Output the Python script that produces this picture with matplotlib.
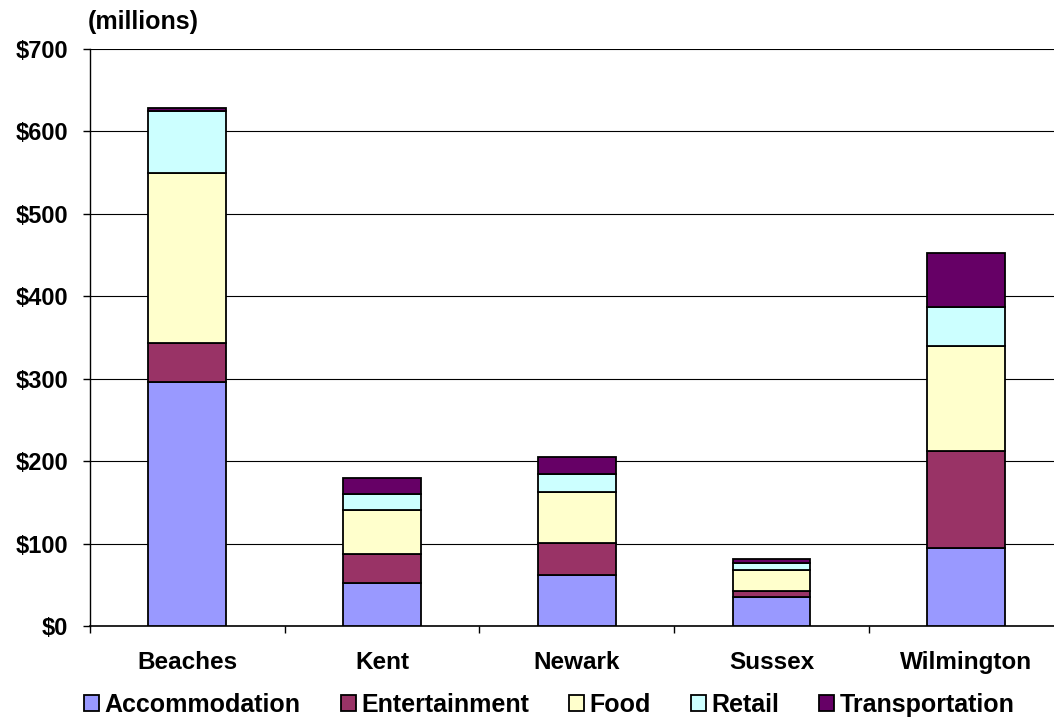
import matplotlib
matplotlib.use("Agg")
import matplotlib.pyplot as plt
import numpy as np

plt.rcParams['font.family'] = ['Liberation Sans', 'DejaVu Sans']
plt.rcParams['font.weight'] = 'bold'

categories = ["Beaches", "Kent", "Newark", "Sussex", "Wilmington"]
series_names = ["Accommodation", "Entertainment", "Food", "Retail", "Transportation"]
accommodation = [296, 52, 62, 35, 95]
entertainment = [47, 35, 39, 7, 117]
food = [206, 54, 61, 26, 128]
retail = [76, 19, 22, 9, 47]
transportation = [3, 20, 21, 4, 65]
colors = ["#9999FF", "#993366", "#FFFFCC", "#CCFFFF", "#660066"]
yticks = [0, 100, 200, 300, 400, 500, 600, 700]
ytick_labels = ["$0", "$100", "$200", "$300", "$400", "$500", "$600", "$700"]

fig = plt.figure(figsize=(10.54, 7.19), dpi=100)
ax = fig.add_axes([90/1054, 93/719, (1063.5-90)/1054, (626-49)/719])

x = np.arange(len(categories))
bottom = np.zeros(len(categories))
series = [accommodation, entertainment, food, retail, transportation]
for name, vals, c in zip(series_names, series, colors):
    ax.bar(x, vals, width=0.4, bottom=bottom, color=c, edgecolor="black",
           linewidth=1.3, label=name, zorder=3)
    bottom += np.array(vals)

ax.set_xlim(-0.5, len(categories) - 0.5)
ax.set_ylim(0, 700)
ax.set_yticks(yticks)
ax.set_yticklabels(ytick_labels, fontsize=17, fontweight='bold')
ax.yaxis.grid(True, color="black", linewidth=0.8, zorder=0)
ax.set_axisbelow(True)

ax.set_xticks(x)
ax.set_xticklabels(categories, fontsize=17.5, fontweight='bold')
ax.tick_params(axis='x', length=0, pad=18)
ax.set_xticks(np.arange(-0.5, len(categories) + 0.5, 1), minor=True)
ax.tick_params(axis='x', which='minor', length=5, direction='out', width=1)
ax.tick_params(axis='y', length=5, direction='out', width=1, pad=10.5)

for s in ["top", "right"]:
    ax.spines[s].set_visible(False)
ax.spines["left"].set_linewidth(1)
ax.spines["bottom"].set_linewidth(1.2)

fig.text(88/1054, 1 - 22/719, "(millions)", fontsize=18, fontweight='bold',
         ha='left', va='center')

leg = fig.legend(loc='center', bbox_to_anchor=(549.5/1054, 1 - 705/719), ncol=5,
                 frameon=False, handlelength=0.6, handleheight=0.6,
                 handletextpad=0.22, columnspacing=1.6, borderpad=0,
                 prop={'weight': 'bold', 'size': 18})

fig.savefig("out.png", dpi=100)
